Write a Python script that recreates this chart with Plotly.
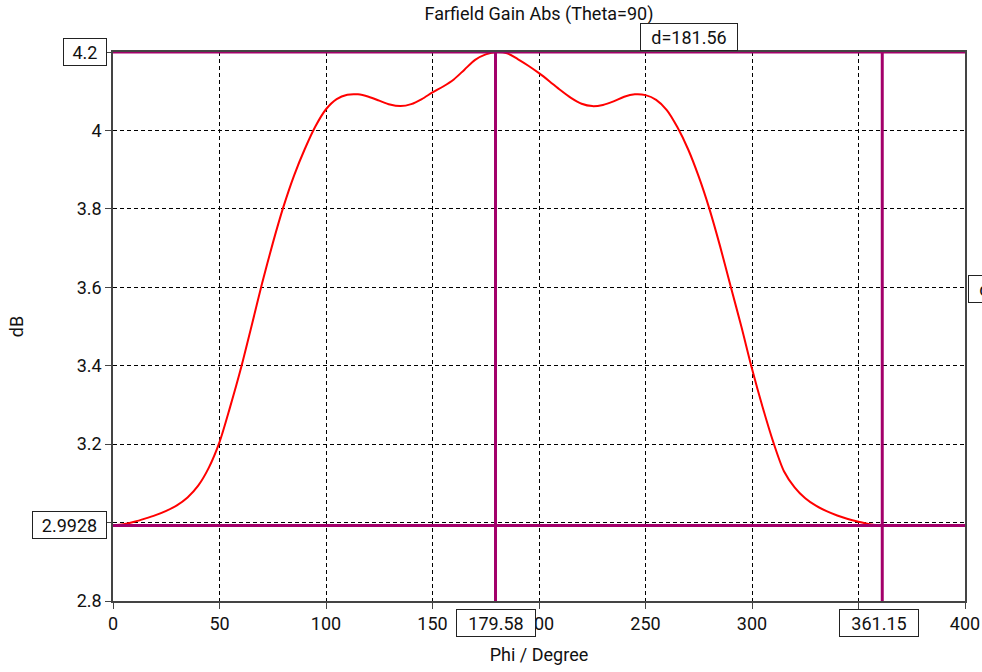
import plotly.graph_objects as go

phi = [0, 5, 10, 15, 20, 25, 30, 35, 40, 45, 50, 55, 60, 65, 70, 75, 80, 85, 90, 95,
       100, 105, 110, 115, 120, 125, 130, 135, 140, 145, 150, 155, 160, 165, 170, 175,
       180, 185, 190, 195, 200, 205, 210, 215, 220, 225, 230, 235, 240, 245, 250, 255,
       260, 265, 270, 275, 280, 285, 290, 295, 300, 305, 310, 315, 320, 325, 330, 335,
       340, 345, 350, 355, 360]
gain_db = [2.9928, 2.996, 3.002, 3.010, 3.019, 3.030, 3.044, 3.064, 3.094, 3.140, 3.205,
           3.295, 3.392, 3.500, 3.610, 3.712, 3.805, 3.885, 3.952, 4.010,
           4.054, 4.080, 4.091, 4.092, 4.086, 4.076, 4.066, 4.062, 4.067, 4.080, 4.097,
           4.112, 4.130, 4.155, 4.180, 4.194,
           4.200, 4.197, 4.182, 4.165, 4.146, 4.125, 4.103, 4.083, 4.068, 4.062, 4.065,
           4.074, 4.086, 4.092, 4.090, 4.078,
           4.052, 4.008, 3.952, 3.882, 3.800, 3.705, 3.602, 3.500, 3.392, 3.294, 3.205,
           3.131, 3.090, 3.062, 3.043, 3.029,
           3.018, 3.009, 3.002, 2.996, 2.9928]

x_markers = [179.58, 361.15]
y_markers = [2.9928, 4.2]
x_delta_label = "d=181.56"
y_delta_label = "d=1.2072"

x_tickvals = [0, 50, 100, 150, 200, 250, 300, 350, 400]
x_ticktext = ["0", "50", "100", "150", "200", "250", "300", "", "400"]
y_tickvals = [2.8, 3.0, 3.2, 3.4, 3.6, 3.8, 4.0, 4.2]
y_ticktext = ["2.8", "", "3.2", "3.4", "3.6", "3.8", "4", ""]

PURPLE = "#A3006A"
FONT = "Roboto"
FS = 18

fig = go.Figure()
fig.add_trace(go.Scatter(x=phi, y=gain_db, mode="lines",
                         line=dict(color="#FF0000", width=2, shape="spline", smoothing=0.8),
                         showlegend=False, hoverinfo="skip"))

shapes = []
for xm in x_markers:
    shapes.append(dict(type="line", xref="x", yref="paper", x0=xm, x1=xm, y0=0, y1=1,
                       line=dict(color=PURPLE, width=3), layer="above"))
for ym in y_markers:
    shapes.append(dict(type="line", xref="paper", yref="y", x0=0, x1=1, y0=ym, y1=ym,
                       line=dict(color=PURPLE, width=3), layer="above"))

def box(**kw):
    d = dict(showarrow=False, bgcolor="white", bordercolor="#222222", borderwidth=1,
             borderpad=1, height=24, font=dict(family=FONT, size=FS, color="#111111"))
    d.update(kw)
    return d

annotations = [
    box(x=x_markers[0], y=0, xref="x", yref="paper", yanchor="top", yshift=-8,
        width=76, text=f"{x_markers[0]:.2f}"),
    box(x=x_markers[1], y=0, xref="x", yref="paper", yanchor="top", yshift=-8,
        xshift=-3, width=76, text=f"{x_markers[1]:.2f}"),
    box(x=0, y=y_markers[0], xref="paper", yref="y", xanchor="right", xshift=-6,
        width=71, text=f"{y_markers[0]:.4f}"),
    box(x=0, y=y_markers[1], xref="paper", yref="y", xanchor="right", xshift=-6,
        width=40, text=f"{y_markers[1]:.1f}"),
    box(x=(x_markers[0] + x_markers[1]) / 2, y=1, xref="x", yref="paper",
        yanchor="bottom", yshift=1, width=94, text=x_delta_label),
    box(x=1, y=(y_markers[0] + y_markers[1]) / 2, xref="paper", yref="y",
        xanchor="left", xshift=3, width=94, text=y_delta_label),
]

fig.update_layout(
    width=982, height=672,
    margin=dict(l=113, r=17, t=52, b=71, autoexpand=False),
    paper_bgcolor="white", plot_bgcolor="white",
    font=dict(family=FONT, size=FS, color="#111111"),
    title=dict(text="Farfield Gain Abs (Theta=90)", x=0.5, xref="paper",
               y=1, yref="container", yanchor="top", pad=dict(t=7),
               font=dict(family=FONT, size=FS, color="#111111")),
    shapes=shapes, annotations=annotations,
    xaxis=dict(range=[0, 400], tickvals=x_tickvals, ticktext=x_ticktext, showgrid=True,
               gridcolor="black", griddash="4px,3px", gridwidth=1, showline=True,
               linecolor="#444444", linewidth=1.5, mirror=True, ticks="outside", ticklen=6,
               tickcolor="#444444", zeroline=False, automargin=False,
               title=dict(text="Phi / Degree", standoff=15, font=dict(size=FS)),
               tickfont=dict(size=FS)),
    yaxis=dict(range=[2.8, 4.2], tickvals=y_tickvals, ticktext=y_ticktext, showgrid=True,
               gridcolor="black", griddash="4px,3px", gridwidth=1, showline=True,
               linecolor="#444444", linewidth=1.5, mirror=True, ticks="outside",
               ticklen=6, tickcolor="#444444", zeroline=False, automargin=False,
               title=dict(text="dB", standoff=48, font=dict(size=FS)),
               tickfont=dict(size=FS)),
)

fig.write_html("out.html")
